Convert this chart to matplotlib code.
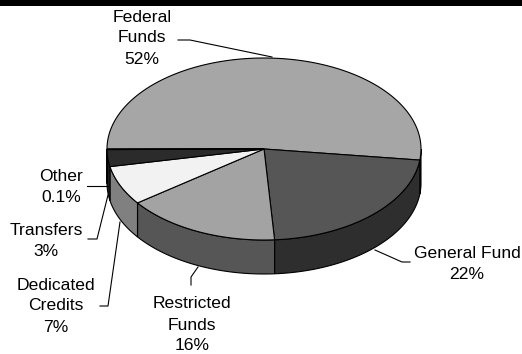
import matplotlib
matplotlib.use('Agg')
import matplotlib.pyplot as plt
import numpy as np
from matplotlib.patches import Polygon, Rectangle

# 数据
labels = ['Federal\nFunds', 'General Fund', 'Restricted\nFunds', 'Dedicated\nCredits', 'Transfers', 'Other']
shares = [52, 22, 16, 7, 3, 0.1]
pct_text = ['52%', '22%', '16%', '7%', '3%', '0.1%']
top_colors = ['#a6a6a6', '#565656', '#a3a3a3', '#f2f2f2', '#2b2b2b', '#000000']
side_colors = ['#707070', '#2e2e2e', '#565656', '#808080', '#1c1c1c', '#000000']

plt.rcParams['font.family'] = ['Liberation Sans', 'DejaVu Sans']

fig = plt.figure(figsize=(5.22, 3.54), dpi=100)
ax = fig.add_axes([0, 0, 1, 1])
ax.set_xlim(0, 522)
ax.set_ylim(354, 0)
ax.axis('off')

# 3D饼图的几何
cx, cy, a, b, depth = 264, 149, 157, 91, 34


def pts(t, dy=0):
    t = np.radians(t)
    return np.column_stack([cx + a * np.cos(t), cy - b * np.sin(t) + dy])


# 角度 (从180度开始顺时针)
angs = 180 - np.concatenate([[0], np.cumsum(shares)]) / sum(shares) * 360

# 侧面
for i in range(len(shares)):
    t0, t1 = angs[i], angs[i + 1]
    hi, lo = min(t0, 0), max(t1, -180)
    if hi > lo:
        ts = np.linspace(hi, lo, 60)
        poly = np.vstack([pts(ts), pts(ts[::-1], depth)])
        ax.add_patch(Polygon(poly, closed=True, fc=side_colors[i], ec='black', lw=0.8))

# 顶面
for i in range(len(shares)):
    ts = np.linspace(angs[i], angs[i + 1], 120)
    poly = np.vstack([[cx, cy], pts(ts)])
    ax.add_patch(Polygon(poly, closed=True, fc=top_colors[i], ec='black', lw=0.8))

# 顶部黑条
ax.add_patch(Rectangle((0, 0), 522, 6, fc='black', ec='none'))

# 标签
fs = 12.6
txt = [lab + '\n' + p for lab, p in zip(labels, pct_text)]
label_pos = [(142, 38), (467, 264), (192, 325), (56, 306), (46, 241), (61, 187)]
for (x, y), s in zip(label_pos, txt):
    ax.text(x, y, s, ha='center', va='center', fontsize=fs, linespacing=1.5)

# 引线
leaders = [
    [(178, 40), (190, 40), (272, 57)],
    [(410, 262), (402, 262), (375, 250)],
    [(191, 285), (191, 277), (198, 267)],
    [(100, 306), (108, 306), (120, 222)],
    [(88, 239), (97, 239), (108, 195)],
    [(87, 186), (108, 186)],
]
for ln in leaders:
    ln = np.array(ln)
    ax.plot(ln[:, 0], ln[:, 1], color='black', lw=0.8)

plt.savefig('out.png', dpi=100)
